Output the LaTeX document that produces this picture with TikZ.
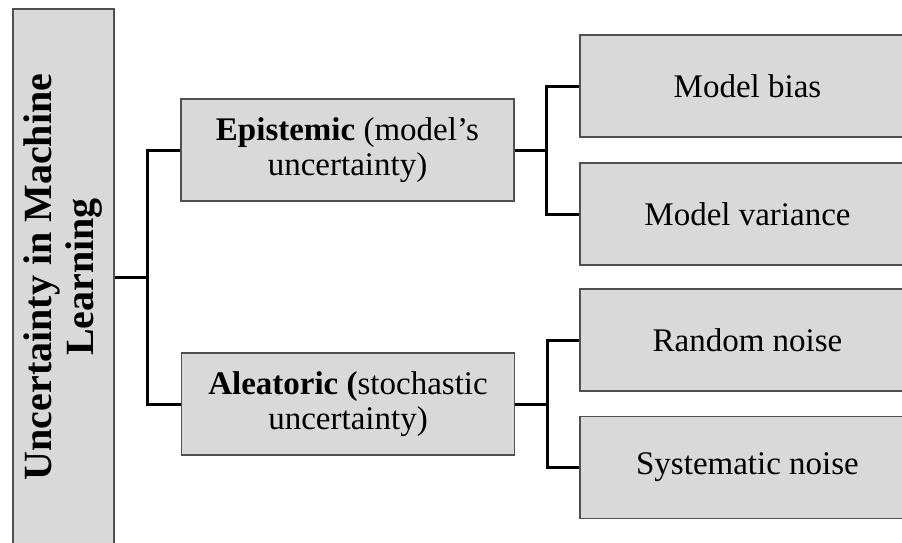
\documentclass[tikz,border=0pt]{standalone}
\usepackage{fontspec}
\setmainfont{Liberation Serif}
\usetikzlibrary{calc}
\definecolor{boxgray}{HTML}{D9D9D9}
\definecolor{edgegray}{HTML}{505050}

\begin{document}
\begin{tikzpicture}[x=1pt, y=-1pt,
		box/.style={draw=edgegray, line width=1.5pt, fill=boxgray, inner sep=0pt, align=center, font=\fontsize{33}{35}\selectfont},
		rootbox/.style={box, rotate=90, minimum width=536pt, minimum height=101pt, font=\fontsize{40}{42}\selectfont\bfseries},
		midbox/.style={box, minimum width=333pt, minimum height=102pt},
		leafbox/.style={box, minimum width=335pt, minimum height=102pt},
		link/.style={line width=3pt, black}]
		%%%%% START %%%%%
		
		\clip (0, 0) rectangle (902, 543);
		
		\node[rootbox] (root) at (63.5, 277) {Uncertainty in Machine\\Learning};
		
		\node[midbox] (epi) at (347.5, 150) {\textbf{Epistemic} (model’s\\uncertainty)};
		\node[midbox] (alea) at (348, 404) {\textbf{Aleatoric (}stochastic\\uncertainty)};
		
		\node[leafbox] (bias) at (747.5, 86) {Model bias};
		\node[leafbox] (var) at (747.5, 214) {Model variance};
		\node[leafbox] (rand) at (747.5, 340) {Random noise};
		\node[leafbox] (syst) at (747.5, 467.5) {Systematic noise};
		
		\draw[link] (root.south) -- ++(33, 0) |- (epi.west);
		\draw[link] (root.south) -- ++(33, 0) |- (alea.west);
		
		\draw[link] (epi.east) -- ++(32, 0) |- (bias.west);
		\draw[link] (epi.east) -- ++(32, 0) |- (var.west);
		\draw[link] (alea.east) -- ++(32, 0) |- (rand.west);
		\draw[link] (alea.east) -- ++(32, 0) |- (syst.west);
		
		%%%%% END %%%%%
	\end{tikzpicture}
\end{document}
